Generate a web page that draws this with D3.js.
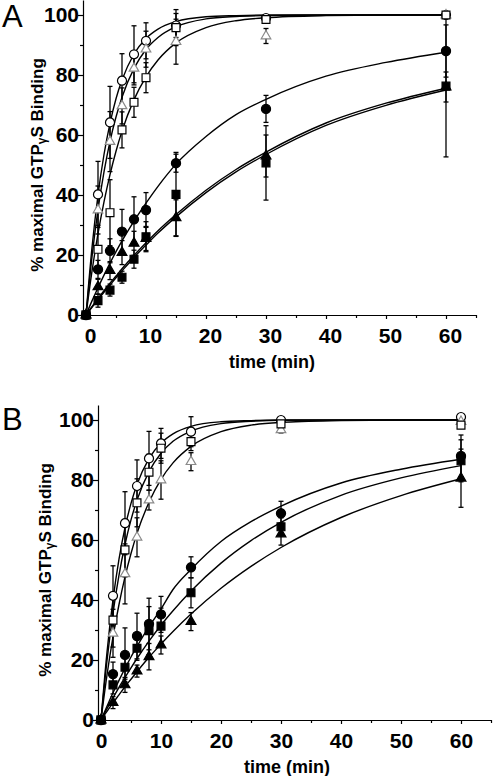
<!DOCTYPE html>
<html><head><meta charset="utf-8">
<script src="https://cdn.jsdelivr.net/npm/d3@7/dist/d3.min.js"></script>
<style>
body{margin:0;background:#fff}
svg{display:block}
text{font-family:"Liberation Sans",Arial,Helvetica,sans-serif}
</style>
</head><body>
<svg id="chart" width="495" height="776"></svg>
<script>
// ---------- shared categories / ticks ----------
const times = [0, 2, 4, 6, 8, 10, 15, 30, 60];
const curveTimes = [0, 1, 2, 3, 4, 5, 6, 8, 10, 12, 15, 20, 25, 30, 40, 50, 60];
const yTicks = [0, 20, 40, 60, 80, 100];
const yMinorTicks = [10, 30, 50, 70, 90];
const xTicks = [0, 10, 20, 30, 40, 50, 60];
const xMinorTicks = [5, 15, 25, 35, 45, 55, 65];
const xTitle = "time (min)";
const yTitleMain = "% maximal GTP";
const yTitleSub = "γ";
const yTitleEnd = "S Binding";

// ---------- Panel A: means ----------
const aOpenCircle   = [0, 40.2, 64.2, 78.1, 86.9, 91.4, 96.5, 99.0, 100];
const aGrayTriangle = [0, 35.0, 57.8, 69.7, 82.2, 88.6, 91.1, 93.0, 100];
const aOpenSquare   = [0, 21.9, 34.1, 61.7, 70.9, 79.1, 95.8, 98.5, 100];
const aFilledCircle = [0, 15.2, 21.4, 27.8, 31.9, 35.0, 50.6, 68.7, 88.0];
const aFilledTriangle = [0, 9.4, 14.8, 20.8, 23.9, 25.5, 32.4, 53.0, 76.0];
const aFilledSquare = [0, 4.8, 8.3, 12.6, 18.6, 26.1, 40.2, 50.7, 76.3];
// Panel A: error (SEM)
const aOpenCircleErr   = [0, 11, 12, 9, 9.5, 6, 4, 1, 0];
const aGrayTriangleErr = [0, 8, 10, 6, 5.5, 6, 7.5, 2.5, 0];
const aOpenSquareErr   = [0, 8, 11, 6, 5, 5, 6, 1, 0];
const aFilledCircleErr = [0, 3, 4, 7.4, 7.5, 5.8, 3, 4.5, 8.7];
const aFilledTriangleErr = [0, 2.5, 3, 4, 4, 4, 6, 7, 5];
const aFilledSquareErr = [0, 2.2, 2, 2, 3, 5, 14, 12.4, 23.6];
// Panel A: fitted curves (values read at curveTimes)
const aOpenCircleFit   = [0, 22.5, 40.0, 53.5, 63.9, 72.1, 78.3, 87.0, 92.2, 95.3, 97.8, 99.4, 99.8, 100, 100, 100, 100];
const aGrayTriangleFit = [0, 19.4, 35.1, 47.7, 57.9, 66.0, 72.6, 82.2, 88.5, 92.5, 96.1, 98.7, 99.5, 99.8, 100, 100, 100];
const aOpenSquareFit   = [0, 14.6, 27.1, 37.7, 46.8, 54.6, 61.3, 71.8, 79.4, 85.0, 90.7, 95.8, 98.1, 99.1, 99.8, 100, 100];
const aFilledCircleFit = [0, 4.7, 9.1, 13.3, 17.3, 21.1, 24.7, 31.3, 37.3, 42.9, 50.3, 59.5, 66.8, 71.9, 79.6, 84.2, 87.6];
const aFilledTriangleFit = [0, 2.8, 5.5, 8.1, 10.6, 13.0, 15.4, 19.9, 24.1, 28.1, 33.5, 41.6, 48.5, 54.3, 64.0, 70.6, 75.6];
const aFilledSquareFit = [0, 2.6, 5.1, 7.6, 10.0, 12.4, 14.7, 19.2, 23.3, 27.3, 32.7, 40.8, 47.7, 53.5, 63.2, 69.9, 75.0];

// ---------- Panel B: means ----------
const bOpenCircle   = [0, 41.4, 65.6, 78.0, 87.2, 92.2, 96.1, 100.0, 101.0];
const bGrayTriangle = [0, 28.9, 48.7, 60.9, 73.3, 80.0, 86.1, 96.7, 99.5];
const bOpenSquare   = [0, 33.3, 56.7, 72.4, 82.6, 90.6, 92.8, 98.7, 98.3];
const bFilledCircle = [0, 15.3, 21.7, 28.0, 32.0, 35.2, 50.9, 68.9, 88.0];
const bFilledTriangle = [0, 5.8, 11.7, 16.3, 21.1, 25.0, 32.8, 62.0, 80.6];
const bFilledSquare = [0, 11.7, 17.6, 23.9, 29.8, 31.3, 42.4, 64.4, 86.4];
// Panel B: error (SEM)
const bOpenCircleErr   = [0, 10, 10.5, 8.7, 9, 5, 5, 1, 0];
const bGrayTriangleErr = [0, 8, 10, 6.5, 3.3, 6.4, 3, 1, 0];
const bOpenSquareErr   = [0, 9, 9, 8, 6, 5, 3, 1, 1];
const bFilledCircleErr = [0, 4, 9, 7.6, 8.6, 6, 3.5, 4, 7];
const bFilledTriangleErr = [0, 2, 2.5, 2, 4.4, 3, 3, 3.7, 9.7];
const bFilledSquareErr = [0, 3, 4, 4, 8, 6, 5, 3, 7];
// Panel B: fitted curves
const bOpenCircleFit   = [0, 22.6, 40.1, 53.6, 64.1, 72.2, 78.5, 87.1, 92.3, 95.4, 97.9, 99.4, 99.8, 100, 100, 100, 100];
const bGrayTriangleFit = [0, 15.0, 27.7, 38.5, 47.7, 55.5, 62.2, 72.6, 80.2, 85.7, 91.2, 96.1, 98.3, 99.2, 99.8, 100, 100];
const bOpenSquareFit   = [0, 19.8, 35.6, 48.3, 58.5, 66.7, 73.3, 82.8, 88.9, 92.9, 96.3, 98.8, 99.6, 99.9, 100, 100, 100];
const bFilledCircleFit = [0, 4.6, 9.1, 13.2, 17.2, 21.0, 24.5, 31.1, 37.0, 43.5, 50.2, 59.5, 66.1, 71.3, 79.0, 83.6, 86.9];
const bFilledTriangleFit = [0, 2.9, 5.7, 8.4, 11.1, 13.6, 16.1, 20.9, 25.3, 29.5, 35.3, 43.9, 51.2, 57.5, 67.5, 74.8, 80.4];
const bFilledSquareFit = [0, 3.8, 7.4, 10.9, 14.2, 17.4, 20.5, 26.3, 31.6, 36.4, 43.0, 52.3, 59.8, 65.9, 74.9, 80.7, 84.8];

// ---------- styles ----------
const styles = {
  openCircle:     {sym: d3.symbolCircle,   size: 64, fill: "#fff", stroke: "#000"},
  grayTriangle:   {sym: d3.symbolTriangle, size: 40, fill: "#fff", stroke: "#8a8a8a"},
  openSquare:     {sym: d3.symbolSquare,   size: 62, fill: "#fff", stroke: "#000"},
  filledCircle:   {sym: d3.symbolCircle,   size: 66, fill: "#000", stroke: "#000"},
  filledTriangle: {sym: d3.symbolTriangle, size: 42, fill: "#000", stroke: "#000"},
  filledSquare:   {sym: d3.symbolSquare,   size: 62, fill: "#000", stroke: "#000"}
};

const panels = [
  {letter: "A", xr: [83, 476], yr: [315, 0], letterPos: [2, 27], yTitleX: 37, xLabDx: 4,
   series: [
     ["openCircle", aOpenCircle, aOpenCircleErr, aOpenCircleFit],
     ["grayTriangle", aGrayTriangle, aGrayTriangleErr, aGrayTriangleFit],
     ["openSquare", aOpenSquare, aOpenSquareErr, aOpenSquareFit],
     ["filledCircle", aFilledCircle, aFilledCircleErr, aFilledCircleFit],
     ["filledTriangle", aFilledTriangle, aFilledTriangleErr, aFilledTriangleFit],
     ["filledSquare", aFilledSquare, aFilledSquareErr, aFilledSquareFit]
   ]},
  {letter: "B", xr: [98, 491], yr: [720, 405], letterPos: [2, 430], yTitleX: 45, xLabDx: 0,
   series: [
     ["openCircle", bOpenCircle, bOpenCircleErr, bOpenCircleFit],
     ["grayTriangle", bGrayTriangle, bGrayTriangleErr, bGrayTriangleFit],
     ["openSquare", bOpenSquare, bOpenSquareErr, bOpenSquareFit],
     ["filledCircle", bFilledCircle, bFilledCircleErr, bFilledCircleFit],
     ["filledTriangle", bFilledTriangle, bFilledTriangleErr, bFilledTriangleFit],
     ["filledSquare", bFilledSquare, bFilledSquareErr, bFilledSquareFit]
   ]}
];

const svg = d3.select("#chart");

panels.forEach(p => {
  const x = d3.scaleLinear().domain([-0.5, 65]).range(p.xr);
  const y = d3.scaleLinear().domain([0, 105]).range(p.yr);
  const g = svg.append("g");

  // axes
  const yAxis = g.append("g").attr("transform", `translate(${p.xr[0]},0)`)
    .call(d3.axisLeft(y).tickValues(yTicks).tickSizeInner(5).tickSizeOuter(0).tickPadding(-1));
  g.append("g").attr("transform", `translate(${p.xr[0]},0)`)
    .call(d3.axisLeft(y).tickValues(yMinorTicks).tickSizeInner(3).tickSizeOuter(0).tickFormat(""))
    .select(".domain").remove();
  const xAxis = g.append("g").attr("transform", `translate(0,${p.yr[0]})`)
    .call(d3.axisBottom(x).tickValues(xTicks).tickSizeInner(4).tickSizeOuter(0).tickPadding(9));
  g.append("g").attr("transform", `translate(0,${p.yr[0]})`)
    .call(d3.axisBottom(x).tickValues(xMinorTicks).tickSizeInner(3).tickSizeOuter(0).tickFormat(""))
    .select(".domain").remove();
  g.selectAll(".domain, .tick line").attr("stroke", "#000").attr("stroke-width", 1.2);
  yAxis.selectAll("text").attr("font-size", 21).attr("font-weight", "bold").attr("fill", "#000")
    .attr("font-family", '"Liberation Sans",Arial,sans-serif');
  xAxis.selectAll("text").attr("font-size", 21).attr("font-weight", "bold").attr("fill", "#000")
    .attr("dx", p.xLabDx).attr("font-family", '"Liberation Sans",Arial,sans-serif');

  // titles
  g.append("text").attr("x", x(31)).attr("y", p.yr[0] + 53)
    .attr("text-anchor", "middle").attr("font-size", 18).attr("font-weight", "bold").text(xTitle);
  const yt = g.append("text")
    .attr("transform", `translate(${p.yTitleX + 6},${(p.yr[0] + y(100)) / 2}) rotate(-90)`)
    .attr("text-anchor", "middle").attr("font-size", 17).attr("font-weight", "bold");
  yt.append("tspan").text(yTitleMain);
  yt.append("tspan").attr("font-size", 12).attr("dy", 3).text(yTitleSub);
  yt.append("tspan").attr("dy", -3).text(yTitleEnd);

  g.append("text").attr("x", p.letterPos[0]).attr("y", p.letterPos[1])
    .attr("font-size", 31).text(p.letter);

  // fitted curves
  const line = d3.line().x((d, i) => x(curveTimes[i])).y(d => y(d)).curve(d3.curveMonotoneX);
  p.series.forEach(([key, vals, errs, fit]) => {
    g.append("path").datum(fit).attr("d", line)
      .attr("fill", "none").attr("stroke", "#000").attr("stroke-width", 1.4);
  });

  // error bars
  p.series.forEach(([key, vals, errs]) => {
    const eb = g.append("g").attr("stroke", "#000").attr("stroke-width", 1.3);
    vals.forEach((v, i) => {
      const e = errs[i];
      if (!e) return;
      const cx = x(times[i]);
      eb.append("line").attr("x1", cx).attr("x2", cx).attr("y1", y(v - e)).attr("y2", y(v + e));
      eb.append("line").attr("x1", cx - 2.5).attr("x2", cx + 2.5).attr("y1", y(v + e)).attr("y2", y(v + e));
      eb.append("line").attr("x1", cx - 2.5).attr("x2", cx + 2.5).attr("y1", y(v - e)).attr("y2", y(v - e));
    });
  });

  // markers
  p.series.forEach(([key, vals]) => {
    const s = styles[key];
    const sym = d3.symbol().type(s.sym).size(s.size);
    g.append("g").selectAll("path").data(vals).join("path")
      .attr("d", sym)
      .attr("transform", (d, i) => `translate(${x(times[i])},${y(d)})`)
      .attr("fill", s.fill).attr("stroke", s.stroke).attr("stroke-width", 1.2);
  });
});
</script>
</body></html>
